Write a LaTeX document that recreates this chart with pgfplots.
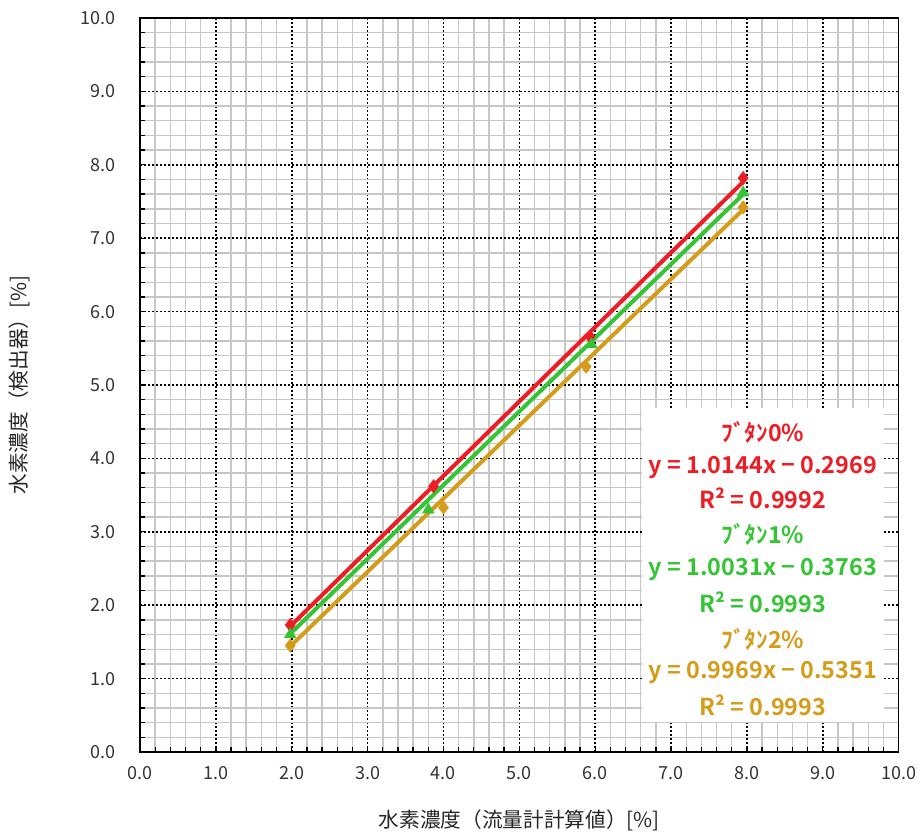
\documentclass[border=0pt]{standalone}
\usepackage{pgfplots}
\pgfplotsset{compat=1.18}
\usepackage{fontspec}
\setmainfont{Noto Sans CJK JP}[BoldFont={Noto Sans CJK JP Bold}]
\definecolor{cred}{RGB}{238,28,36}
\definecolor{cgreen}{RGB}{52,196,52}
\definecolor{corange}{RGB}{212,156,24}
\begin{document}
\begin{tikzpicture}
\path[use as bounding box] (-105pt,-64.5pt) rectangle (585pt,564pt);
\begin{axis}[
  at={(0,0)}, anchor=south west,
  scale only axis,
  width=569pt, height=550.5pt,
  xmin=0, xmax=10, ymin=0, ymax=10,
  xtick={0,1,...,10}, ytick={0,1,...,10},
  minor tick num=4,
  tick pos=left, tick align=inside,
  major tick length=4pt, minor tick length=4pt,
  every tick/.style={black, line width=1pt},
  grid=both,
  major grid style={black, line width=1.2pt, dash pattern=on 1.6pt off 1.4pt},
  minor grid style={black!22, line width=1.1pt},
  axis line style={black, line width=1.2pt},
  /pgf/number format/assume math mode=true,
  /pgf/number format/.cd, fixed, fixed zerofill, precision=1,
  /pgfplots/.cd,
  tick label style={font=\fontsize{13.5}{16}\selectfont, black!80},
  yticklabel style={xshift=-15pt},
  xticklabel style={yshift=-7pt},
  xlabel={水素濃度（流量計計算値）[\%]},
  ylabel={水素濃度（検出器）[\%]},
  every axis x label/.style={at={(axis description cs:0.5,-0.0926)}, anchor=center, font=\fontsize{15.5}{18}\selectfont, text=black!85},
  every axis y label/.style={at={(axis description cs:-0.1595,0.5)}, anchor=center, rotate=90, font=\fontsize{15.5}{18}\selectfont, text=black!85},
  clip=false,
]
% trend lines
\addplot[cred, line width=3pt] coordinates {(1.97,1.702) (7.95,7.768)};
\addplot[cgreen, line width=3pt] coordinates {(1.97,1.600) (7.95,7.598)};
\addplot[corange, line width=3pt] coordinates {(1.97,1.429) (7.95,7.390)};
% data
\addplot[only marks, mark=diamond*, mark size=5pt, cred] coordinates {(1.98,1.73) (3.87,3.62) (5.93,5.66) (7.95,7.82)};
\addplot[only marks, mark=triangle*, mark size=5pt, cgreen] coordinates {(1.98,1.60) (3.80,3.30) (5.95,5.55) (7.95,7.62)};
\addplot[only marks, mark=diamond*, mark size=5pt, corange] coordinates {(1.98,1.45) (4.00,3.33) (5.88,5.25) (7.95,7.42)};
% equation box
\fill[white] (axis cs:6.62,0.41) rectangle (axis cs:9.80,4.69);
\begin{scope}[every node/.style={font=\bfseries\fontsize{17.5}{20}\selectfont, anchor=center}]
\node[text=cred] at (axis cs:8.21,4.35) {ﾌﾞﾀﾝ0\%};
\node[text=cred] at (axis cs:8.21,3.88) {y = 1.0144x − 0.2969};
\node[text=cred] at (axis cs:8.21,3.46) {R² = 0.9992};
\node[text=cgreen] at (axis cs:8.21,2.96) {ﾌﾞﾀﾝ1\%};
\node[text=cgreen] at (axis cs:8.21,2.49) {y = 1.0031x − 0.3763};
\node[text=cgreen] at (axis cs:8.21,2.04) {R² = 0.9993};
\node[text=corange] at (axis cs:8.21,1.53) {ﾌﾞﾀﾝ2\%};
\node[text=corange] at (axis cs:8.21,1.08) {y = 0.9969x − 0.5351};
\node[text=corange] at (axis cs:8.21,0.64) {R² = 0.9993};
\end{scope}
\end{axis}
\end{tikzpicture}
\end{document}
